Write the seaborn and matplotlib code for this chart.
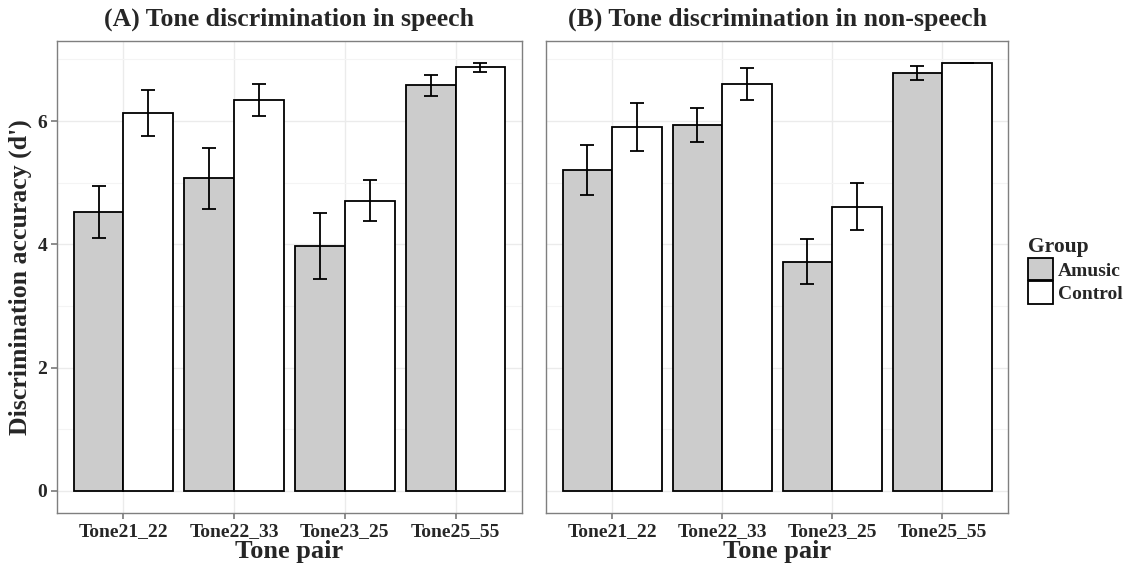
import numpy as np
import pandas as pd
import matplotlib
matplotlib.use("Agg")
import matplotlib.pyplot as plt
from matplotlib.patches import Patch
import seaborn as sns

# ---- data ----
pairs = ["Tone21_22", "Tone22_33", "Tone23_25", "Tone25_55"]
groups = ["Amusic", "Control"]

speech_amusic = [4.52, 5.07, 3.97, 6.58]
speech_amusic_se = [0.42, 0.49, 0.54, 0.17]
speech_control = [6.13, 6.34, 4.71, 6.87]
speech_control_se = [0.37, 0.26, 0.33, 0.08]

nonspeech_amusic = [5.21, 5.94, 3.72, 6.78]
nonspeech_amusic_se = [0.41, 0.28, 0.36, 0.11]
nonspeech_control = [5.91, 6.60, 4.61, 6.95]
nonspeech_control_se = [0.39, 0.26, 0.38, 0.0]

titles = ["(A) Tone discrimination in speech", "(B) Tone discrimination in non-speech"]
xlabel = "Tone pair"
ylabel = "Discrimination accuracy (d')"
yticks = [0, 2, 4, 6]


def make_df(amusic, amusic_se, control, control_se):
    return pd.DataFrame({
        "pair": pairs * 2,
        "group": ["Amusic"] * 4 + ["Control"] * 4,
        "d": list(amusic) + list(control),
        "se": list(amusic_se) + list(control_se),
    })


dfs = [make_df(speech_amusic, speech_amusic_se, speech_control, speech_control_se),
       make_df(nonspeech_amusic, nonspeech_amusic_se, nonspeech_control, nonspeech_control_se)]

sns.set_theme(style="white")
plt.rcParams["font.family"] = ["Liberation Serif", "DejaVu Serif"]
plt.rcParams["font.weight"] = "bold"

W, H = 1130, 573
fig = plt.figure(figsize=(W / 100, H / 100), dpi=100)
fig.patch.set_facecolor("white")

panel_px = [(57, 522), (546, 1008)]
top_px, bot_px = 41, 513
palette = {"Amusic": "#CCCCCC", "Control": "#FFFFFF"}
gridc = "#EBEBEB"

for i, (df, (x0, x1)) in enumerate(zip(dfs, panel_px)):
    ax = fig.add_axes([x0 / W, (H - bot_px) / H, (x1 - x0) / W, (bot_px - top_px) / H])
    ax.set_facecolor("white")
    sns.barplot(data=df, x="pair", y="d", hue="group", order=pairs, hue_order=groups,
                palette=palette, edgecolor="black", linewidth=1.3, width=0.9, gap=0,
                errorbar=None, ax=ax, legend=False, zorder=3)
    for cont, g in zip(ax.containers, groups):
        sub = df[df["group"] == g].set_index("pair").loc[pairs]
        xs = [b.get_x() + b.get_width() / 2 for b in cont]
        ax.errorbar(xs, sub["d"].values, yerr=sub["se"].values, fmt="none",
                    ecolor="black", elinewidth=1.3, capsize=5, capthick=1.3, zorder=4)
    ax.set_xlim(-0.6, 3.6)
    ax.set_ylim(-0.36, 7.3)
    ax.set_yticks(yticks)
    ax.set_yticks([1, 3, 5, 7], minor=True)
    ax.grid(True, which="major", axis="both", color=gridc, linewidth=1.0, zorder=0)
    ax.grid(True, which="minor", axis="y", color="#F4F4F4", linewidth=0.8, zorder=0)
    ax.set_axisbelow(True)
    for s in ax.spines.values():
        s.set_color("#7F7F7F")
        s.set_linewidth(1.0)
    ax.set_title(titles[i], fontsize=18.5, fontweight="bold", pad=11)
    ax.set_xlabel(xlabel, fontsize=19, fontweight="bold", labelpad=0)
    ax.tick_params(axis="x", length=4, color="#7F7F7F", labelsize=14, pad=3, bottom=True)
    for lab in ax.get_xticklabels():
        lab.set_fontweight("bold")
    if i == 0:
        ax.set_ylabel(ylabel, fontsize=18.5, fontweight="bold", labelpad=4)
        ax.tick_params(axis="y", length=4, color="#7F7F7F", labelsize=14, pad=3, left=True)
        for lab in ax.get_yticklabels():
            lab.set_fontweight("bold")
    else:
        ax.set_ylabel("")
        ax.tick_params(axis="y", left=False, labelleft=False)
    ax.tick_params(axis="y", which="minor", left=False)

handles = [Patch(facecolor=palette[g], edgecolor="black", linewidth=1.3, label=g) for g in groups]
leg = fig.legend(handles=handles, title="Group", loc="upper left",
                 bbox_to_anchor=(1028 / W, (H - 237) / H), frameon=False,
                 handlelength=1.3, handleheight=1.4, handletextpad=0.25,
                 labelspacing=0.05, borderaxespad=0, borderpad=0,
                 prop={"size": 14, "weight": "bold"},
                 title_fontproperties={"size": 15.5, "weight": "bold"})
leg._legend_box.align = "left"

fig.savefig("out.png", dpi=100, facecolor="white")
